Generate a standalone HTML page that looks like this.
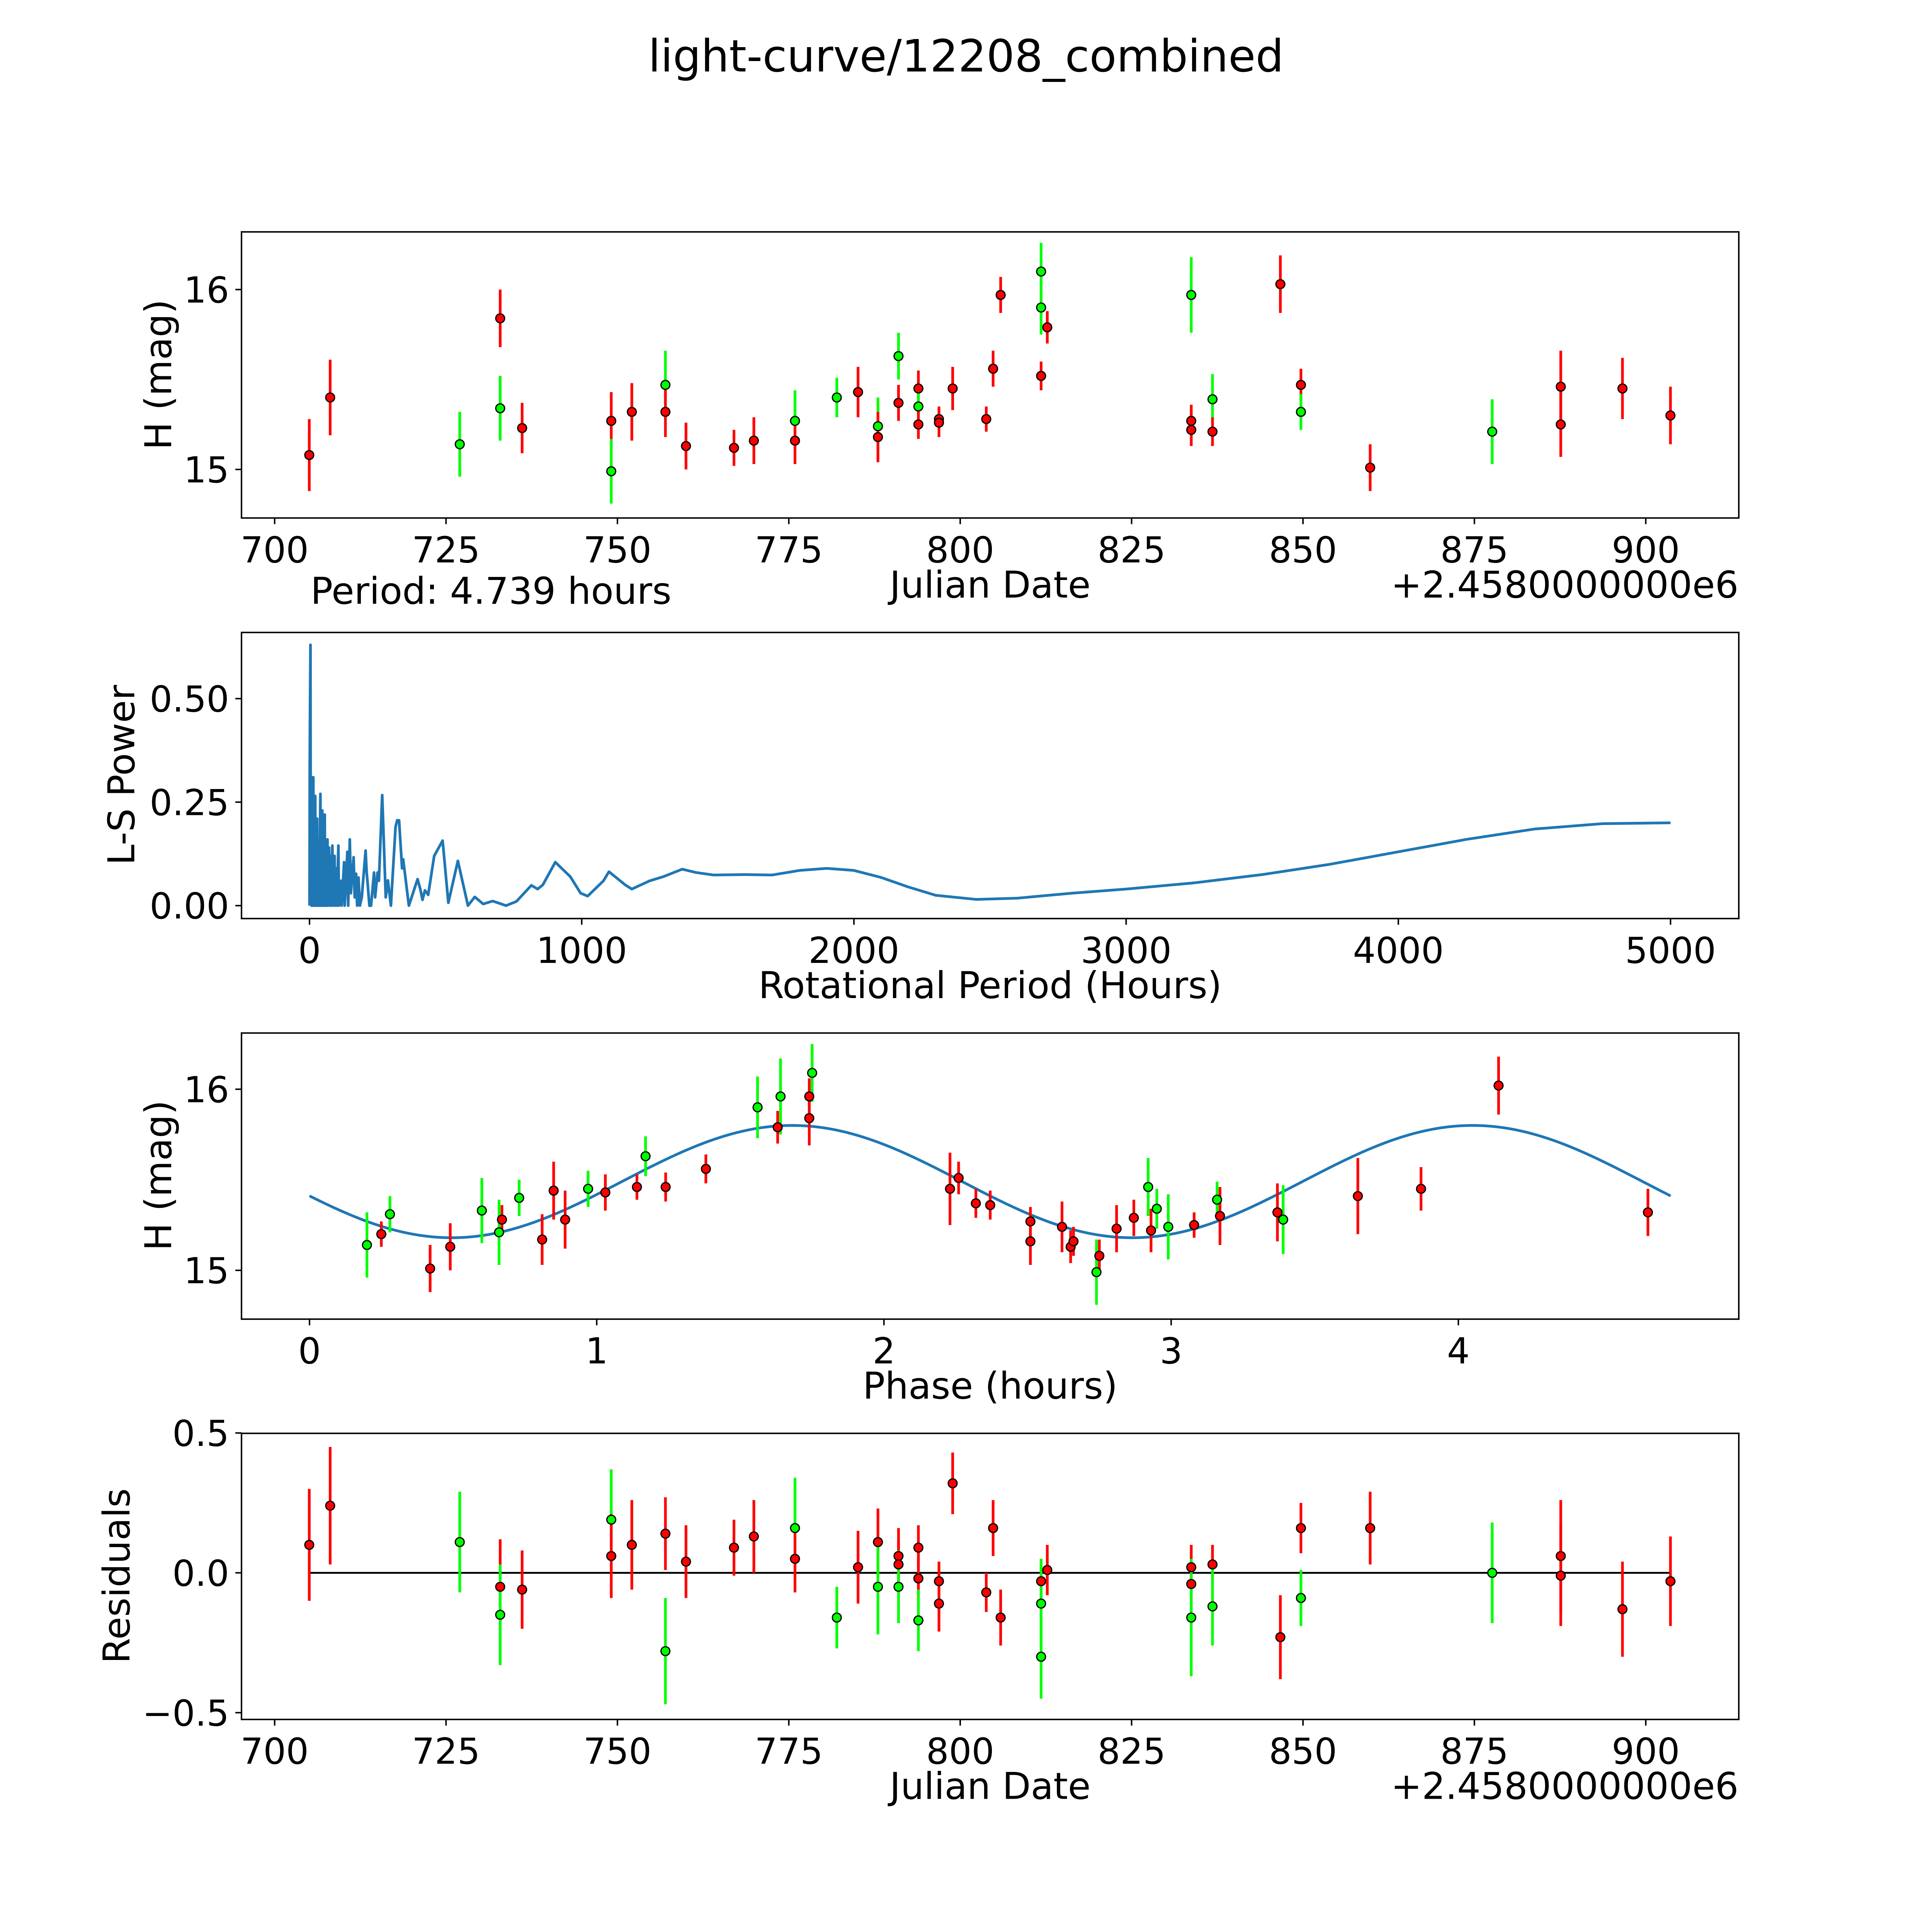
<!DOCTYPE html>
<html><head><meta charset="utf-8"><style>
html,body{margin:0;padding:0;background:#fff;overflow:hidden;width:100vw;height:100vh}
svg{display:block;position:absolute;left:0;top:0;width:100vw;height:100vh}
text{font-family:"DejaVu Sans","Liberation Sans",sans-serif;fill:#000}
</style></head><body>
<svg id="fig" xmlns="http://www.w3.org/2000/svg" viewBox="0 0 1568 1568" preserveAspectRatio="none">
<rect x="0" y="0" width="1568" height="1568" fill="#fff"/>
<text x="784" y="58" font-size="36" text-anchor="middle">light-curve/12208_combined</text>
<g id="p1"></g>
<g id="p2"></g>
<g id="p3"></g>
<g id="p4"></g>
</svg>
<script>
// ---- Light curve data (Julian date offset from 2458000) ----
const lcDates = [705.05,708.1,727.0,732.9,732.9,736.1,749.1,749.1,752.1,757.0,757.0,760.0,767.0,769.9,775.9,775.9,782.0,785.1,788.0,788.0,791.0,791.0,793.9,793.9,793.9,796.9,796.9,798.9,803.8,804.8,805.9,811.8,811.8,811.8,812.7,833.7,833.7,833.7,836.8,836.8,846.7,849.7,849.7,859.8,877.6,887.6,887.6,896.6,903.6];
const lcMags = [15.08,15.40,15.14,15.34,15.84,15.23,15.27,14.99,15.32,15.47,15.32,15.13,15.12,15.16,15.27,15.16,15.40,15.43,15.24,15.18,15.63,15.37,15.45,15.35,15.25,15.28,15.26,15.45,15.28,15.56,15.97,16.10,15.90,15.52,15.79,15.97,15.27,15.22,15.39,15.21,16.03,15.47,15.32,15.01,15.21,15.46,15.25,15.45,15.30];
const lcErr = [0.20,0.21,0.18,0.18,0.16,0.14,0.16,0.18,0.16,0.19,0.14,0.13,0.10,0.13,0.17,0.13,0.11,0.14,0.16,0.14,0.13,0.10,0.10,0.11,0.08,0.07,0.08,0.12,0.07,0.10,0.10,0.16,0.15,0.08,0.09,0.21,0.09,0.09,0.14,0.08,0.16,0.09,0.10,0.13,0.18,0.20,0.18,0.17,0.16];
const lcBand = ['r','r','g','g','r','r','r','g','r','g','r','r','r','r','g','r','g','r','g','r','g','r','r','g','r','r','r','r','r','r','r','g','g','r','r','g','r','r','g','r','r','r','g','r','g','r','r','r','r'];

// ---- Periodogram ----
const lsPeriods = [0,1,2,3.5,4.5,6,7,9,10,11,12,14,15,17,18,21,22,24,25,28,29,32,33,35,36,40,41,44,45,47,48,52,53,56,57,61,62,66,67,72,74,77,79,84,86,92,94,99,101,106,108,115,118,127,129,135,139,142,148,152,162,166,171,175,180,185,192,206,210,214,220,226,237,241,250,255,267,280,288,299,316,322,329,340,344,365,397,407,415,424,436,458,489,510,545,582,607,638,673,722,760,815,838,857,903,958,996,1022,1080,1100,1160,1184,1250,1300,1369,1420,1484,1600,1700,1800,1900,2000,2100,2200,2300,2450,2600,2800,3000,3250,3500,3750,4000,4250,4500,4750,5000];
const lsPower = [0,0.35,0.48,0.63,0.05,0.2,0,0.31,0.05,0.25,0,0.31,0.02,0.22,0,0.265,0,0.18,0,0.21,0,0.15,0,0.12,0,0.27,0,0.10,0,0.23,0,0.18,0,0.22,0,0.12,0,0.16,0,0.14,0,0.12,0,0.145,0,0.12,0,0.09,0,0.145,0,0.06,0,0.105,0,0.07,0.13,0,0.16,0.03,0.117,0.02,0.077,0,0.068,0,0.02,0.133,0.08,0.05,0,0,0.08,0.02,0.08,0.06,0.267,0.02,0.061,0,0.19,0.206,0.206,0.09,0.112,0,0.064,0.04,0.014,0.037,0.026,0.12,0.157,0.007,0.108,0,0.021,0.004,0.011,0,0.01,0.049,0.04,0.05,0.105,0.07,0.03,0.023,0.06,0.082,0.05,0.04,0.06,0.07,0.088,0.08,0.074,0.075,0.074,0.085,0.09,0.085,0.068,0.045,0.025,0.015,0.018,0.03,0.04,0.055,0.075,0.10,0.13,0.16,0.185,0.198,0.2];

// ---- Phased data ----
const phPhase = [0.20,0.25,0.28,0.42,0.49,0.60,0.66,0.67,0.73,0.81,0.85,0.89,0.97,1.03,1.14,1.17,1.24,1.38,1.56,1.63,1.64,1.74,1.75,1.74,2.23,2.26,2.32,2.37,2.51,2.51,2.62,2.65,2.66,2.75,2.74,2.81,2.87,2.92,2.93,2.95,2.99,3.08,3.16,3.17,3.37,3.39,3.65,3.87,4.14,4.66];
const phMags = [15.14,15.20,15.31,15.01,15.13,15.33,15.21,15.28,15.40,15.17,15.44,15.28,15.45,15.43,15.46,15.63,15.46,15.56,15.90,15.79,15.96,15.96,16.09,15.84,15.45,15.51,15.37,15.36,15.27,15.16,15.24,15.13,15.16,15.08,14.99,15.23,15.29,15.46,15.22,15.34,15.24,15.25,15.39,15.30,15.32,15.28,15.41,15.45,16.02,15.32];
const phErr = [0.18,0.07,0.10,0.13,0.13,0.18,0.18,0.08,0.10,0.14,0.16,0.16,0.10,0.10,0.07,0.11,0.08,0.08,0.17,0.09,0.21,0.10,0.16,0.15,0.20,0.09,0.08,0.08,0.08,0.13,0.14,0.09,0.08,0.09,0.18,0.13,0.10,0.16,0.12,0.11,0.18,0.07,0.10,0.16,0.16,0.19,0.21,0.12,0.16,0.13];
const phBand = ['g','r','g','r','r','g','g','r','g','r','r','r','g','r','r','g','r','r','g','r','g','r','g','r','r','r','r','r','r','r','r','r','r','r','g','r','r','g','r','g','g','r','g','r','r','g','r','r','r','r'];
// model fit parameters: mean, amplitude, peak phase, half-period
const fitParams = [15.49, 0.31, 1.68, 2.3695];
const fitPeriod = [4.739];

// ---- Residuals ----
const resDates = [705.05,708.1,727.0,732.9,732.9,736.1,749.1,749.1,752.1,757.0,757.0,760.0,767.0,769.9,775.9,775.9,782.0,785.1,788.0,788.0,791.0,791.0,791.0,793.9,793.9,793.9,796.9,796.9,798.9,803.8,804.8,805.9,811.8,811.8,811.8,812.7,833.7,833.7,833.7,836.8,836.8,846.7,849.7,849.7,859.8,877.6,887.6,887.6,896.6,903.6];
const resVals = [0.10,0.24,0.11,-0.05,-0.15,-0.06,0.19,0.06,0.10,0.14,-0.28,0.04,0.09,0.13,0.16,0.05,-0.16,0.02,0.11,-0.05,0.06,0.03,-0.05,0.09,-0.02,-0.17,-0.03,-0.11,0.32,-0.07,0.16,-0.16,-0.03,-0.11,-0.30,0.01,0.02,-0.04,-0.16,0.03,-0.12,-0.23,0.16,-0.09,0.16,0.00,0.06,-0.01,-0.13,-0.03];
const resErr = [0.20,0.21,0.18,0.17,0.18,0.14,0.18,0.15,0.16,0.13,0.19,0.13,0.10,0.13,0.18,0.12,0.11,0.13,0.12,0.17,0.10,0.08,0.13,0.08,0.07,0.11,0.07,0.10,0.11,0.07,0.10,0.10,0.08,0.16,0.15,0.09,0.08,0.09,0.21,0.07,0.14,0.15,0.09,0.10,0.13,0.18,0.20,0.18,0.17,0.16];
const resBand = ['r','r','g','r','g','r','g','r','r','r','g','r','r','r','g','r','g','r','r','g','r','r','g','r','r','g','r','r','r','r','r','r','r','g','g','r','r','r','g','r','g','r','r','g','r','g','r','r','r','r'];

const dateTicks = [700,725,750,775,800,825,850,875,900];
const periodTicks = [0,1000,2000,3000,4000,5000];
const phaseTicks = [0,1,2,3,4];
const magTicks = [15,16];
const powerTicks = [0,0.25,0.5];
const powerTickLabels = ['0.00','0.25','0.50'];
const resTicks = [-0.5,0,0.5];
const resTickLabels = ['\u22120.5','0.0','0.5'];

const NS='http://www.w3.org/2000/svg';
const L=196, R=1411.2, H=232.2;
const tops=[188.2,513.3,838.4,1163.3];
const COL={r:'#ff0000',g:'#00ff00'};

function mk(tag, attrs, parent){const e=document.createElementNS(NS,tag);for(const k in attrs)e.setAttribute(k,attrs[k]);parent.appendChild(e);return e;}

const xDate = d => 222.9 + (d-700)*5.564;
const xPer = p => 251.2 + p*0.22092;
const xPh = p => 251.2 + p*233.1;
const yMag1 = m => 381 - (m-15)*146;
const yPow = v => 735 - v*336;
const yMag3 = m => 1031 - (m-15)*147;
const yRes = v => 1276.5 - v*227;

function frame(g, top){
  const r=mk('rect',{x:L,y:top,width:R-L,height:H,fill:'none',stroke:'#000','stroke-width':1.2},g);
  
  
}
function xticks(g, top, vals, labels, fx, name){
  const y=top+H;
  vals.forEach((v,i)=>{
    const x=fx(v);
    const t=mk('line',{x1:x,x2:x,y1:y,y2:y+5,stroke:'#000','stroke-width':1.2},g);
    
    
    const tx=mk('text',{x:x,y:y+36,'font-size':29,'text-anchor':'middle'},g);
    tx.textContent=labels[i];
    
    
  });
}
function yticks(g, vals, labels, fy, name){
  vals.forEach((v,i)=>{
    const y=fy(v);
    const t=mk('line',{x1:L-5,x2:L,y1:y,y2:y,stroke:'#000','stroke-width':1.2},g);
    
    
    const tx=mk('text',{x:L-10,y:y+10.5,'font-size':29,'text-anchor':'end'},g);
    tx.textContent=labels[i];
    
    
  });
}
function label(g, txt, x, y, rot, name, anchor){
  const a={x:x,y:y,'font-size':30,'text-anchor':anchor||'middle'};
  if(rot) a.transform='rotate(-90 '+x+' '+y+')';
  const t=mk('text',a,g);t.textContent=txt;
  
  
}
function points(g, xs, ys, errs, bands, fx, fy, name){
  for(let i=0;i<xs.length;i++){
    const x=fx(xs[i]), c=COL[bands[i]];
    const e=mk('line',{x1:x,x2:x,y1:fy(ys[i]-errs[i]),y2:fy(ys[i]+errs[i]),stroke:c,'stroke-width':2.2},g);
    
    
  }
  for(let i=0;i<xs.length;i++){
    const p=mk('circle',{cx:fx(xs[i]),cy:fy(ys[i]),r:3.6,fill:COL[bands[i]],stroke:'#000','stroke-width':1},g);
    
    
  }
}

// Panel 1
const g1=document.getElementById('p1');
points(g1, lcDates, lcMags, lcErr, lcBand, xDate, yMag1, 'light-curve');
frame(g1, tops[0]);
xticks(g1, tops[0], dateTicks, dateTicks.map(String), xDate, 'date-x');
yticks(g1, magTicks, magTicks.map(String), yMag1, 'mag-y');
label(g1,'H (mag)',139,304,true,'y-axis-title');
label(g1,'Julian Date',803.6,485,false,'x-axis-title');
label(g1,'+2.4580000000e6',1411,485,false,'x-offset-text','end');
label(g1,'Period: 4.739 hours',252,490,false,'period-annotation','start');

// Panel 2
const g2=document.getElementById('p2');
const pl=mk('polyline',{points:lsPeriods.map((p,i)=>xPer(p).toFixed(2)+','+yPow(lsPower[i]).toFixed(2)).join(' '),fill:'none',stroke:'#1f77b4','stroke-width':2.2,'stroke-linejoin':'round'},g2);


frame(g2, tops[1]);
xticks(g2, tops[1], periodTicks, periodTicks.map(String), xPer, 'period-x');
yticks(g2, powerTicks, powerTickLabels, yPow, 'power-y');
label(g2,'L-S Power',109,629,true,'y-axis-title');
label(g2,'Rotational Period (Hours)',803.6,810,false,'x-axis-title');

// Panel 3
const g3=document.getElementById('p3');
const pts=[];
for(let i=0;i<=300;i++){const p=fitPeriod[0]*i/300;const m=fitParams[0]+fitParams[1]*Math.cos(2*Math.PI*(p-fitParams[2])/fitParams[3]);pts.push(xPh(p).toFixed(2)+','+yMag3(m).toFixed(2));}
const fl=mk('polyline',{points:pts.join(' '),fill:'none',stroke:'#1f77b4','stroke-width':2.2},g3);


points(g3, phPhase, phMags, phErr, phBand, xPh, yMag3, 'phased');
frame(g3, tops[2]);
xticks(g3, tops[2], phaseTicks, phaseTicks.map(String), xPh, 'phase-x');
yticks(g3, magTicks, magTicks.map(String), yMag3, 'mag-y');
label(g3,'H (mag)',139,954,true,'y-axis-title');
label(g3,'Phase (hours)',803.6,1135,false,'x-axis-title');

// Panel 4
const g4=document.getElementById('p4');
const zl=mk('line',{x1:xDate(resDates[0]),x2:xDate(resDates[resDates.length-1]),y1:yRes(0),y2:yRes(0),stroke:'#000','stroke-width':1.5},g4);


points(g4, resDates, resVals, resErr, resBand, xDate, yRes, 'residual');
frame(g4, tops[3]);
xticks(g4, tops[3], dateTicks, dateTicks.map(String), xDate, 'date-x');
yticks(g4, resTicks, resTickLabels, yRes, 'res-y');
label(g4,'Residuals',105,1279,true,'y-axis-title');
label(g4,'Julian Date',803.6,1460,false,'x-axis-title');
label(g4,'+2.4580000000e6',1411,1460,false,'x-offset-text','end');
</script>
</body></html>
